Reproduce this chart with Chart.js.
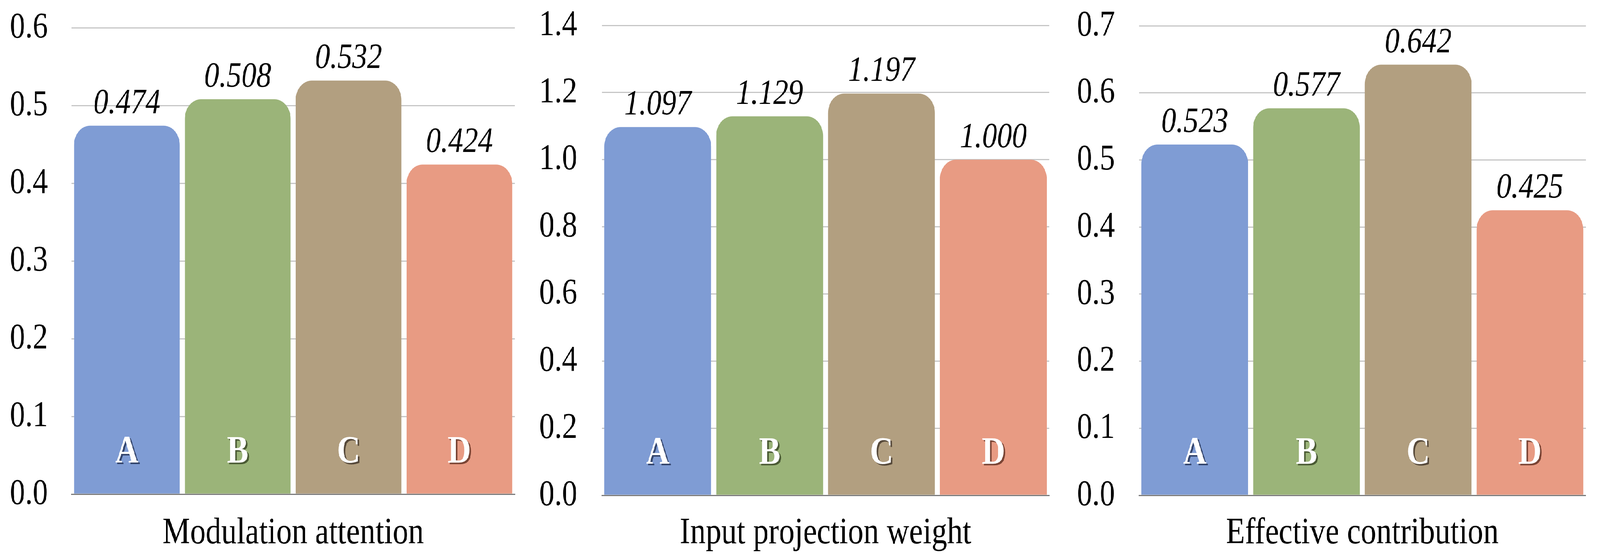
<!DOCTYPE html>
<html><head><meta charset="utf-8">
<script src="https://cdn.jsdelivr.net/npm/chart.js@4"></script>
<style>
html,body{margin:0;padding:0;background:#fff;overflow:hidden;}
#viewport{position:fixed;left:0;top:0;width:100vw;height:100vh;overflow:hidden;background:#fff;}
#wrap{position:absolute;left:0;top:0;width:4948px;height:1431px;transform-origin:0 0;background:#fff;}
canvas{position:absolute;top:0;}
</style></head><body>
<div id="viewport"><div id="wrap">
<canvas id="c1" width="1649" height="1431" style="left:0px;width:1649px;height:1431px"></canvas>
<canvas id="c2" width="1650" height="1431" style="left:1649px;width:1650px;height:1431px"></canvas>
<canvas id="c3" width="1649" height="1431" style="left:3299px;width:1649px;height:1431px"></canvas>
</div></div>
<script>
// ---- data ----
const categories = ['A', 'B', 'C', 'D'];
const panelTitles = ['Modulation attention', 'Input projection weight', 'Effective contribution'];
const modulationAttention = [0.474, 0.508, 0.532, 0.424];
const inputProjectionWeight = [1.097, 1.129, 1.197, 1.000];
const effectiveContribution = [0.523, 0.577, 0.642, 0.425];
const yMaxima = [0.6, 1.4, 0.7];
const ySteps = [0.1, 0.2, 0.1];

// ---- style / layout (design space 4948 x 1431) ----
const barColors = ['#7F9CD4', '#9BB479', '#B29F80', '#E89B83'];
const shadowColors = ['#34456c', '#4a5a34', '#56493a', '#7a4434'];
const FONT = '"Liberation Serif", "Times New Roman", serif';
const TICK_SIZE = 94;
const plotLeft = [221, 212, 223];
const plotRight = [1592, 1596, 1605];
const plotTop = [71, 65, 66];
const plotBase = [1265, 1268, 1268];
const tickPad = [73, 76, 74];

// fit the 4948x1431 design into whatever the viewport is
(function fit() {
  const sx = window.innerWidth / 4948;
  const sy = window.innerHeight / 1431;
  document.getElementById('wrap').style.transform = 'scale(' + sx + ',' + sy + ')';
})();

const labelPlugin = {
  id: 'barLabels',
  afterDatasetsDraw(chart) {
    const ctx = chart.ctx;
    const meta = chart.getDatasetMeta(0);
    const ds = chart.data.datasets[0];
    meta.data.forEach((bar, i) => {
      const p = bar.getProps(['x', 'y', 'base'], true);
      ctx.save();
      ctx.textAlign = 'center';
      ctx.textBaseline = 'alphabetic';
      ctx.font = 'italic 92px ' + FONT;
      ctx.fillStyle = '#000';
      ctx.fillText(ds.data[i].toFixed(3), p.x, p.y - 32);
      ctx.font = 'bold 100px ' + FONT;
      ctx.shadowColor = shadowColors[i];
      ctx.shadowOffsetX = 5;
      ctx.shadowOffsetY = 4;
      ctx.shadowBlur = 0;
      ctx.fillStyle = '#fff';
      ctx.fillText(chart.data.labels[i], p.x, p.base - 80);
      ctx.restore();
    });
  }
};

const seriesList = [modulationAttention, inputProjectionWeight, effectiveContribution];

seriesList.forEach((values, k) => {
  const cv = document.getElementById('c' + (k + 1));
  const rightPad = cv.width - plotRight[k];
  const xAxisHeight = 1431 - plotBase[k];
  new Chart(cv, {
    type: 'bar',
    data: {
      labels: categories,
      datasets: [{
        data: values,
        backgroundColor: barColors,
        borderWidth: 0,
        borderRadius: {topLeft: 50, topRight: 50, bottomLeft: 0, bottomRight: 0},
        borderSkipped: false,
        categoryPercentage: 1.0,
        barPercentage: 0.955
      }]
    },
    options: {
      responsive: false,
      devicePixelRatio: 1,
      animation: false,
      layout: {padding: {top: plotTop[k], right: rightPad, bottom: 0, left: 0}},
      plugins: {legend: {display: false}, tooltip: {enabled: false}},
      scales: {
        x: {
          ticks: {display: false},
          grid: {display: false, drawTicks: false},
          border: {display: true, color: '#7a7a7a', width: 3},
          title: {
            display: true,
            text: panelTitles[k],
            color: '#000',
            font: {family: FONT, size: 96},
            padding: {top: 0, bottom: 8}
          },
          afterFit(s) { s.height = xAxisHeight; s.paddingLeft = 0; s.paddingRight = 0; }
        },
        y: {
          min: 0,
          max: yMaxima[k],
          ticks: {
            stepSize: ySteps[k],
            callback: v => Number(v).toFixed(1),
            color: '#000',
            font: {family: FONT, size: TICK_SIZE},
            padding: tickPad[k]
          },
          grid: {color: '#c6c6c6', lineWidth: 3, drawTicks: false},
          border: {display: false},
          afterFit(s) { s.width = plotLeft[k]; s.paddingTop = 0; s.paddingBottom = 0; }
        }
      }
    },
    plugins: [labelPlugin]
  });
});
</script>
</body></html>
